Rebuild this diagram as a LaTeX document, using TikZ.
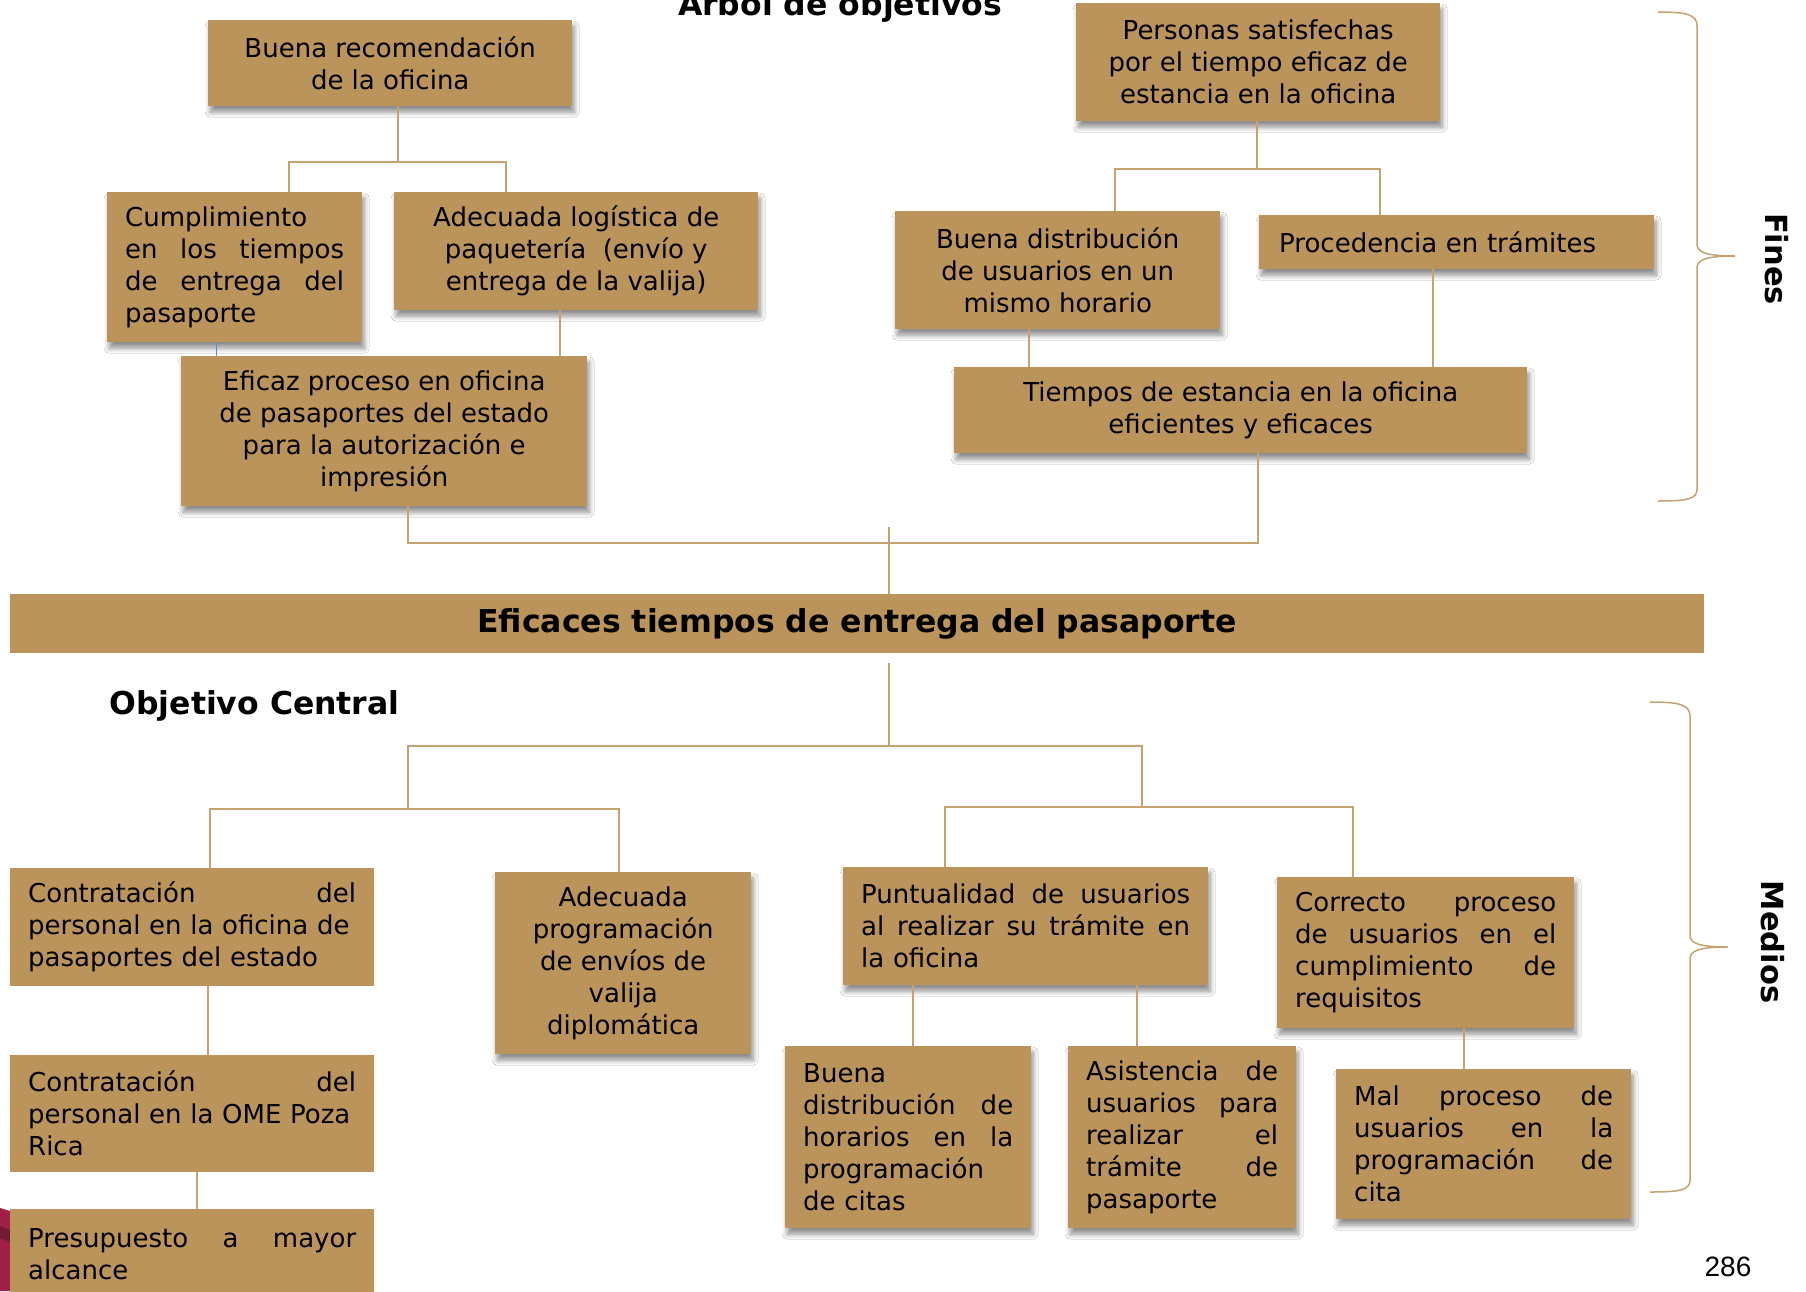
\documentclass[tikz,border=0pt]{standalone}
\usepackage{fontspec}
\setmainfont{DejaVu Sans}
\newfontfamily\numfont{Liberation Sans}
\usepackage{tikz}
\usetikzlibrary{shadows, shadows.blur, positioning}
\usepackage{xcolor}
\definecolor{ocrecaja}{RGB}{187,148,92}
\definecolor{ocrelinea}{RGB}{197,162,112}
\definecolor{azullinea}{RGB}{92,142,190}
\definecolor{carmin}{RGB}{160,30,72}
\definecolor{carminoscuro}{RGB}{112,26,52}

\begin{document}
\begin{tikzpicture}[
    x=1pt, y=-1pt,
    box/.style={fill=ocrecaja, inner sep=0pt, anchor=north west, align=center, font=\fontsize{26}{32}\selectfont},
    sbox/.style={box, blur shadow={shadow xshift=2pt, shadow yshift=-6pt, shadow blur steps=8, shadow blur radius=5pt, shadow opacity=45}},
    link/.style={draw=ocrelinea, line width=1.5pt},
    head/.style={font=\bfseries\fontsize{31.5}{36}\selectfont},
    side/.style={font=\bfseries\fontsize{30.5}{34}\selectfont, rotate=-90},
    brace/.style={draw=ocrelinea, line width=1.5pt}
]
    \path[use as bounding box, clip] (0,0) rectangle (1806,1291);
    \fill[white] (0,0) rectangle (1806,1291);

    % fines
    \node[sbox, minimum width=364pt, minimum height=86pt] (rec) at (208,20) {Buena recomendación\\de la oficina};
    \node[sbox, minimum width=364pt, minimum height=118pt] (pers) at (1076,3) {Personas satisfechas\\por el tiempo eficaz de\\estancia en la oficina};
    \node[sbox, align=left, text width=219pt, minimum width=255pt, minimum height=150pt] (cump) at (107,192) {Cumplimiento\\en\hfill los\hfill tiempos\\de\hfill entrega\hfill del\\pasaporte};
    \node[sbox, minimum width=364pt, minimum height=118pt] (adlog) at (394,192) {Adecuada logística de\\paquetería~ (envío y\\entrega de la valija)};
    \node[sbox, minimum width=406pt, minimum height=150pt] (efic) at (181,356) {Eficaz proceso en oficina\\de pasaportes del estado\\para la autorización e\\impresión};
    \node[sbox, minimum width=325pt, minimum height=118pt] (bdist) at (895,211) {Buena distribución\\de usuarios en un\\mismo horario};
    \node[sbox, align=left, text width=355pt, minimum width=395pt, minimum height=54pt] (proc) at (1259,215) {Procedencia en trámites};
    \node[sbox, minimum width=573pt, minimum height=86pt] (tiemp) at (954,367) {Tiempos de estancia en la oficina\\eficientes y eficaces};

    % objetivo central
    \node[box, font=\bfseries\fontsize{31.5}{36}\selectfont, minimum width=1694pt, minimum height=59pt] (cent) at (10,594) {Eficaces tiempos de entrega del pasaporte};
    \node[head, anchor=base] (tit) at (840,15) {Árbol de objetivos};
    \node[head, anchor=base west] (obj) at (106,714) {Objetivo Central};

    % medios
    \fill[carmin] (0,1208) -- (10,1211) -- (10,1291) -- (0,1291) -- cycle;
    \fill[carminoscuro] (0,1226) -- (10,1230) -- (10,1242) -- (0,1238) -- cycle;
    \node[box, align=left, text width=328pt, minimum width=364pt, minimum height=118pt] (contr1) at (10,868) {Contratación\hfill del\\personal en la oficina de\\pasaportes del estado};
    \node[sbox, minimum width=256pt, minimum height=182pt] (adprog) at (495,872) {Adecuada\\programación\\de envíos de\\valija\\diplomática};
    \node[sbox, align=left, text width=329pt, minimum width=365pt, minimum height=118pt] (punt) at (843,867) {Puntualidad\hfill de\hfill usuarios\\al\hfill realizar\hfill su\hfill trámite\hfill en\\la oficina};
    \node[sbox, align=left, text width=261pt, minimum width=297pt, minimum height=151pt] (corr) at (1277,877) {Correcto\hfill proceso\\de\hfill usuarios\hfill en\hfill el\\cumplimiento\hfill de\\requisitos};
    \node[box, align=left, text width=328pt, minimum width=364pt, minimum height=117pt] (contr2) at (10,1055) {Contratación\hfill del\\personal en la OME Poza\\Rica};
    \node[box, align=left, text width=328pt, minimum width=364pt, minimum height=90pt] (presu) at (10,1209) {Presupuesto\hfill a\hfill mayor\\alcance};
    \node[sbox, align=left, text width=210pt, minimum width=246pt, minimum height=182pt] (bhor) at (785,1046) {Buena\\distribución\hfill de\\horarios\hfill en\hfill la\\programación\\de citas};
    \node[sbox, align=left, text width=192pt, minimum width=228pt, minimum height=182pt] (asist) at (1068,1046) {Asistencia\hfill de\\usuarios\hfill para\\realizar\hfill el\\trámite\hfill de\\pasaporte};
    \node[sbox, align=left, text width=259pt, minimum width=295pt, minimum height=150pt] (mal) at (1336,1069) {Mal\hfill proceso\hfill de\\usuarios\hfill en\hfill la\\programación\hfill de\\cita};

    % conectores de fines
    \coordinate (ja) at (398,162);
    \draw[link] (rec.south -| ja) -- (ja);
    \draw[link] ([xshift=54.5pt]cump.north) |- (ja) -| ([xshift=-70pt]adlog.north);
    \draw[azullinea, line width=1.2pt] ([xshift=-18.5pt]cump.south) -- ([xshift=-18.5pt]cump.south |- efic.north);
    \draw[link] ([xshift=-16pt]adlog.south) -- ([xshift=-16pt]adlog.south |- efic.north);
    \coordinate (jb) at (889,543);
    \draw[link] ([xshift=24pt]efic.south) |- (jb) -| ([xshift=17.5pt]tiemp.south);
    \draw[link] ([yshift=16pt]jb) -- (cent.north -| jb);
    \coordinate (jc) at (1257,169);
    \draw[link] (pers.south -| jc) -- (jc);
    \draw[link] ([xshift=57.5pt]bdist.north) |- (jc) -| ([xshift=-76.5pt]proc.north);
    \draw[link] ([xshift=-28.5pt]bdist.south) -- ([xshift=-28.5pt]bdist.south |- tiemp.north);
    \draw[link] ([xshift=-23.5pt]proc.south) -- ([xshift=-23.5pt]proc.south |- tiemp.north);

    % conectores de medios
    \coordinate (jd) at (889,746);
    \coordinate (jl) at (408,809);
    \coordinate (jr) at (1142,807);
    \draw[link] ([yshift=-10pt]cent.south -| jd) -- (jd);
    \draw[link] (jl) |- (jd) -| (jr);
    \draw[link] ([xshift=18pt]contr1.north) |- (jl) -| ([xshift=-4pt]adprog.north);
    \draw[link] ([xshift=-80.5pt]punt.north) |- (jr) -| ([xshift=-72.5pt]corr.north);
    \draw[link] ([xshift=16pt]contr1.south) -- ([xshift=16pt]contr2.north);
    \draw[link] ([xshift=5pt]contr2.south) -- ([xshift=5pt]presu.north);
    \draw[link] ([xshift=-112.5pt]punt.south) -- ([xshift=-112.5pt]punt.south |- bhor.north);
    \draw[link] ([xshift=111.5pt]punt.south) -- ([xshift=111.5pt]punt.south |- asist.north);
    \draw[link] ([xshift=38.5pt]corr.south) -- ([xshift=38.5pt]corr.south |- mal.north);

    % llaves laterales
    \draw[brace] (1658,12) .. controls (1688,12) and (1697,15) .. (1697,26) -- (1697,244) .. controls (1697,252) and (1705,256) .. (1735,256) .. controls (1705,256) and (1697,260) .. (1697,268) -- (1697,489) .. controls (1697,499) and (1688,501) .. (1658,501);
    \draw[brace] (1650,702) .. controls (1680,702) and (1690,705) .. (1690,716) -- (1690,935) .. controls (1690,943) and (1698,947) .. (1728,947) .. controls (1698,947) and (1690,951) .. (1690,959) -- (1690,1180) .. controls (1690,1190) and (1680,1192) .. (1650,1192);
    \node[side] (fines) at (1777,259) {Fines};
    \node[side] (medios) at (1773,942) {Medios};
    \node[font=\numfont\fontsize{28}{32}\selectfont] (pag) at (1728,1267) {286};
\end{tikzpicture}
\end{document}
